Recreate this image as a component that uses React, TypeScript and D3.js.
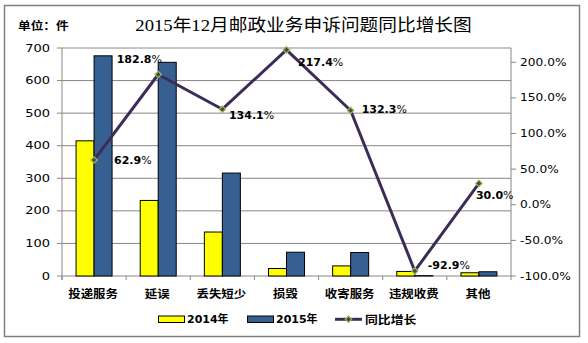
import React from "react";
import * as d3 from "d3";

const categories = ["投递服务", "延误", "丢失短少", "损毁", "收寄服务", "违规收费", "其他"];
const values2014 = [415, 232, 135, 23, 31, 14, 10];
const values2015 = [676, 656, 316, 73, 72, 1, 13];
const growth = [62.9, 182.8, 134.1, 217.4, 132.3, -92.9, 30.0];
const leftTicks = [0, 100, 200, 300, 400, 500, 600, 700];
const rightTicks = [-100, -50, 0, 50, 100, 150, 200];
const labelOffsets: [number, number][] = [
  [20, 0], [-41.5, -15.5], [6.6, 6], [11.5, 12], [11, -1.5], [13, -6], [-3, 11.5],
];

const W = 588, H = 343;
const L = 62, R = 511, T = 48, B = 276;
const LINE = "#3D2C58";
const YEL = "#FFFF00";
const BLUE = "#376092";
const GRID = "#878787";

function ST(props: { x: number; y: number; s?: number; anchor?: string; size: number; weight?: string | number; family: string; fill?: string; children: React.ReactNode }) {
  const { x, y, s = 1, anchor = "start", size, weight = "normal", family, fill = "#000", children } = props;
  return (
    <text transform={`translate(${x},${y}) scale(${s},1)`} textAnchor={anchor} fontSize={size} fontWeight={weight} fontFamily={family} fill={fill}>
      {children}
    </text>
  );
}

export default function App() {
  const x = d3.scaleBand<string>().domain(categories).range([L, R]).padding(0);
  const yL = d3.scaleLinear().domain([0, 700]).range([B, T]);
  const yR = d3.scaleLinear().domain([-100, 220]).range([B, T]);
  const bw = 18;
  const cx = (c: string) => (x(c) as number) + x.bandwidth() / 2;
  const line = d3.line<number>().x((_, i) => cx(categories[i])).y((d) => yR(d));
  const diamond = (px: number, py: number, r = 3.2) => `M${px},${py - r}L${px + r},${py}L${px},${py + r}L${px - r},${py}Z`;
  const sans = "DejaVu Sans, Verdana, sans-serif";
  const cjk = "'Noto Sans CJK SC', sans-serif";
  const mixed = "'DejaVu Sans', 'Noto Sans CJK SC', sans-serif";
  const titleFont = "'Liberation Serif', 'Noto Sans CJK SC', serif";

  return (
    <svg width={W} height={H} style={{ position: "absolute", left: 0, top: 0 }}>
      <rect x={0} y={0} width={W} height={H} fill="#fff" />
      <rect x={4.5} y={5.5} width={575} height={331} fill="#fff" stroke="#7f7f7f" strokeWidth={1.5} />

      <ST x={303.5} y={31} s={1.1} anchor="middle" size={17} family={titleFont}>2015年12月邮政业务申诉问题同比增长图</ST>
      <ST x={18} y={29.5} s={1.15} size={11} weight="bold" family={cjk}>单位：件</ST>

      {/* gridlines */}
      {leftTicks.map((t) => (
        <line key={t} x1={L - 5} x2={R} y1={yL(t)} y2={yL(t)} stroke={GRID} strokeWidth={1} />
      ))}
      <line x1={L} x2={L} y1={T} y2={B + 4} stroke={GRID} />
      <line x1={R} x2={R} y1={T} y2={B + 4} stroke={GRID} />
      {categories.map((c, i) => (
        <line key={c} x1={x(c) as number} x2={x(c) as number} y1={B} y2={B + 4} stroke={GRID} />
      ))}
      {rightTicks.map((t) => (
        <line key={t} x1={R} x2={R + 5} y1={yR(t)} y2={yR(t)} stroke={GRID} />
      ))}

      {leftTicks.map((t) => (
        <ST key={t} x={50} y={yL(t) + 3.6} s={1.3} anchor="end" size={10} family={sans}>{t}</ST>
      ))}
      {rightTicks.map((t) => (
        <ST key={t} x={520} y={yR(t) + 3.6} s={1.22} size={10} family={sans}>{`${t.toFixed(1)}%`}</ST>
      ))}

      {/* bars */}
      {categories.map((c, i) => (
        <g key={c}>
          <rect x={cx(c) - bw} y={yL(values2014[i])} width={bw} height={B - yL(values2014[i])} fill={YEL} stroke="#000" strokeWidth={1} />
          <rect x={cx(c)} y={yL(values2015[i])} width={bw} height={B - yL(values2015[i])} fill={BLUE} stroke="#000" strokeWidth={1} />
        </g>
      ))}

      {/* line */}
      <path d={line(growth) || ""} fill="none" stroke={LINE} strokeWidth={3} strokeLinejoin="round" />
      {growth.map((g, i) => (
        <path key={i} d={diamond(cx(categories[i]), yR(g))} fill="#4a4a3a" stroke="#9BBB59" strokeWidth={1.2} />
      ))}
      {growth.map((g, i) => (
        <text key={i} x={cx(categories[i]) + labelOffsets[i][0]} y={yR(g) + labelOffsets[i][1] + 4} fontSize={11} fontWeight="bold" fontFamily={sans} fill="#000">
          {g.toFixed(1)}
          <tspan fontWeight="normal">%</tspan>
        </text>
      ))}

      {/* category labels */}
      {categories.map((c) => (
        <ST key={c} x={cx(c) - 1} y={297.5} s={1.13} anchor="middle" size={11} weight="bold" family={cjk}>{c}</ST>
      ))}

      {/* legend */}
      <rect x={158.5} y={316} width={26} height={6.5} fill={YEL} stroke="#000" strokeWidth={1} />
      <ST x={187} y={323} size={11} weight="bold" family={mixed}>2014年</ST>
      <rect x={247.5} y={316} width={26} height={6.5} fill={BLUE} stroke="#000" strokeWidth={1} />
      <ST x={276} y={323} size={11} weight="bold" family={mixed}>2015年</ST>
      <line x1={335} x2={362} y1={319.3} y2={319.3} stroke={LINE} strokeWidth={3} />
      <path d={diamond(348.5, 319.3)} fill="#4a4a3a" stroke="#9BBB59" strokeWidth={1.2} />
      <ST x={365} y={323.5} s={1.17} size={11} weight="bold" family={cjk}>同比增长</ST>
    </svg>
  );
}
